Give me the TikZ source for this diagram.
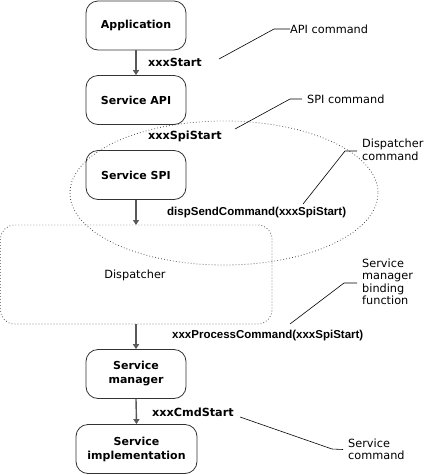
\documentclass[tikz,border=0pt]{standalone}
\usepackage{fontspec}
\setmainfont{DejaVu Sans}
\newfontfamily\tahomab{Liberation Sans}[BoldFont={* Bold}]
\usetikzlibrary{arrows.meta}
\begin{document}
\begin{tikzpicture}[x=1pt,y=-1pt,
  box/.style={draw=black!80,line width=0.8pt,rounded corners=12pt,minimum width=100pt,minimum height=49pt,align=center,font=\fontsize{11}{14}\selectfont\bfseries,inner sep=1pt},
  flow/.style={draw=black!65,line width=1.4pt,-{Triangle[length=5pt,width=6pt]}},
  lbl/.style={anchor=west,inner sep=0pt,font=\fontsize{11.2}{13}\selectfont\bfseries},
  lblt/.style={anchor=west,inner sep=0pt,font=\fontsize{11.5}{13}\selectfont\tahomab\bfseries},
  note/.style={anchor=west,inner sep=0pt,align=left,font=\fontsize{11.3}{12.5}\selectfont},
  lead/.style={draw=black,line width=0.6pt},
  dots/.style={draw=black!75,line width=0.8pt,dash pattern=on 0.7pt off 2.3pt}]
\useasboundingbox (0,0) rectangle (426,475);
% dotted shapes
\draw[dots] (224,193) ellipse[x radius=154,y radius=72];
\draw[dots,rounded corners=14pt] (0.5,225) rectangle (272,324);
\node[inner sep=0pt,font=\fontsize{11.3}{13}\selectfont] (disp) at (135,275) {Dispatcher};
\coordinate (dtop) at (136,225);
\coordinate (dbot) at (136,324);
% boxes
\node[box] (app) at (136,25.5) {Application};
\node[box] (api) at (136,100) {Service API};
\node[box] (spi) at (136,175) {Service SPI};
\node[box] (mgr) at (136,374) {Service\\manager};
\node[box,minimum width=121pt] (impl) at (136.5,449) {Service\\implementation};
% flows
\draw[flow] (app.south) -- (api.north);
\draw[flow] (spi.south) -- (dtop);
\draw[flow] (dbot) -- (mgr.north);
\draw[flow] (mgr.south) -- (impl.north);
% labels
\node[lbl] (l1) at (148,62) {xxxStart};
\node[lbl] (l2) at (148,136) {xxxSpiStart};
\node[lblt] (l3) at (167,213) {dispSendCommand(xxxSpiStart)};
\node[lblt] (l4) at (172,336) {xxxProcessCommand(xxxSpiStart)};
\node[lbl] (l5) at (152,412) {xxxCmdStart};
% notes
\node[note] (n1) at (290,29) {API command};
\node[note] (n2) at (307,99) {SPI command};
\node[note] (n3) at (362,150) {Dispatcher\\command};
\node[note] (n4) at (362,282) {Service\\manager\\binding\\function};
\node[note] (n5) at (348,449.5) {Service\\command};
% leaders
\coordinate (a1) at (219,59); \coordinate (b1) at (274,29);
\coordinate (a2) at (235,129); \coordinate (b2) at (290,99);
\coordinate (a3) at (303,204); \coordinate (b3) at (345,151);
\coordinate (a4) at (290,324); \coordinate (b4) at (344,283);
\coordinate (a5) at (240,417); \coordinate (b5) at (332,449);
\draw[lead] (a1) -- (b1) -- (n1.west);
\draw[lead] (a2) -- (b2) -- ([xshift=-5pt]n2.west);
\draw[lead] (a3) -- (b3) -- ([xshift=-5pt]b3-|n3.west);
\draw[lead] (a4) -- (b4) -- ([xshift=-5pt]b4-|n4.west);
\draw[lead] (a5) -- (b5) -- ([xshift=-5pt]n5.west);
\end{tikzpicture}
\end{document}
